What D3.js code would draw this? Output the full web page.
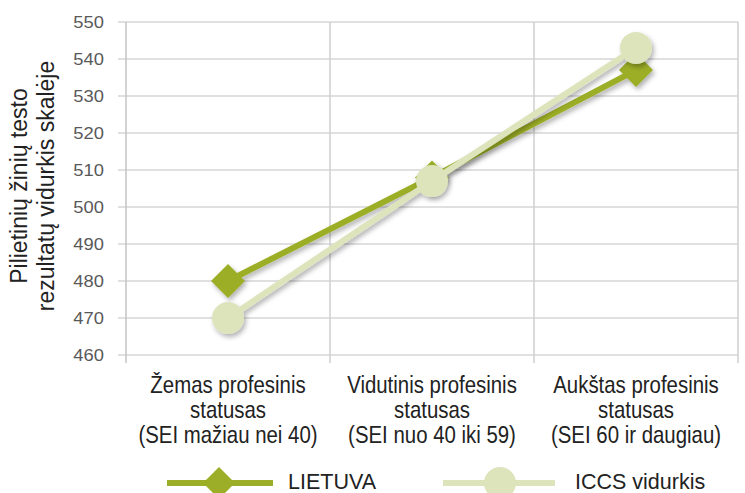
<!DOCTYPE html>
<html>
<head>
<meta charset="utf-8">
<script src="https://cdn.jsdelivr.net/npm/d3@7"></script>
<style>
body { margin: 0; background: #fff; }
text { font-family: "Liberation Sans", Arial, sans-serif; }
</style>
</head>
<body>
<svg width="745" height="493"></svg>
<script>
var categories = [
    ["Žemas profesinis", "statusas", "(SEI mažiau nei 40)"],
    ["Vidutinis profesinis", "statusas", "(SEI nuo 40 iki 59)"],
    ["Aukštas profesinis", "statusas", "(SEI 60 ir daugiau)"]
];
var lietuva = [480, 508, 537];
var iccs = [470, 507, 543];
var yTicks = [460, 470, 480, 490, 500, 510, 520, 530, 540, 550];
var seriesNames = ["LIETUVA", "ICCS vidurkis"];

var svg = d3.select("svg");
var pLeft = 126, pRight = 738, pTop = 22, pBottom = 355;

var x = d3.scaleBand().domain(d3.range(categories.length)).range([pLeft, pRight]);
var y = d3.scaleLinear().domain([460, 550]).range([pBottom, pTop]);

var defs = svg.append("defs");
var f = defs.append("filter").attr("id", "shadow")
    .attr("x", "-30%").attr("y", "-30%").attr("width", "160%").attr("height", "160%");
f.append("feDropShadow").attr("dx", 2).attr("dy", 3).attr("stdDeviation", 2.5)
    .attr("flood-color", "#000").attr("flood-opacity", 0.3);

// horizontal grid
svg.append("g").selectAll("line").data(yTicks).enter().append("line")
    .attr("x1", pLeft - 8).attr("x2", pRight)
    .attr("y1", function(d){return y(d);}).attr("y2", function(d){return y(d);})
    .attr("stroke", "#d6d6d6").attr("stroke-width", 1.5);

// vertical grid
var vx = d3.range(categories.length + 1).map(function(i){
    return i < categories.length ? x(i) : pRight;
});
svg.append("g").selectAll("line").data(vx).enter().append("line")
    .attr("x1", function(d){return d;}).attr("x2", function(d){return d;})
    .attr("y1", pTop).attr("y2", pBottom + 8)
    .attr("stroke", function(d, i){return i == 0 ? "#c4c4c4" : "#cfcfcf";})
    .attr("stroke-width", 1.5);

// y labels
svg.append("g").selectAll("text").data(yTicks).enter().append("text")
    .attr("x", 104).attr("y", function(d){return y(d) + 6;})
    .attr("text-anchor", "end").attr("font-size", 17).attr("fill", "#595959")
    .attr("transform", function(d){return "translate(104," + y(d) + ") scale(1.08,0.95) translate(-104," + (-y(d)) + ")";})
    .text(function(d){return d;});

// y title
var yt = svg.append("text").attr("transform", "translate(27,186) rotate(-90)")
    .attr("text-anchor", "middle").attr("font-size", 23).attr("fill", "#222");
yt.append("tspan").attr("x", 0).attr("dy", 0).text("Pilietinių žinių testo");
yt.append("tspan").attr("x", 0).attr("dy", 27).text("rezultatų vidurkis skalėje");

// category labels
var cx = function(i){return x(i) + x.bandwidth() / 2;};
categories.forEach(function(lines, i){
    var t = svg.append("text").attr("text-anchor", "middle").attr("font-size", 24)
        .attr("fill", "#222")
        .attr("transform", "translate(" + cx(i) + ",0) scale(0.85,1)");
    lines.forEach(function(l, j){
        t.append("tspan").attr("x", 0).attr("y", 393 + j * 25).text(l);
    });
});

var line = d3.line().x(function(d, i){return cx(i);}).y(function(d){return y(d);});
var colL = "#9cae28", colI = "#dde4bc";

function diamondPath(s) {
    return "M0," + (-s) + "L" + s + ",0L0," + s + "L" + (-s) + ",0Z";
}

var gL = svg.append("g").attr("filter", "url(#shadow)");
gL.append("path").datum(lietuva).attr("d", line).attr("fill", "none")
    .attr("stroke", colL).attr("stroke-width", 6);
gL.selectAll("path.m").data(lietuva).enter().append("path").attr("class", "m")
    .attr("d", diamondPath(17))
    .attr("transform", function(d, i){return "translate(" + cx(i) + "," + y(d) + ")";})
    .attr("fill", colL);

var gI = svg.append("g").attr("filter", "url(#shadow)");
gI.append("path").datum(iccs).attr("d", line).attr("fill", "none")
    .attr("stroke", colI).attr("stroke-width", 6);
gI.selectAll("circle").data(iccs).enter().append("circle")
    .attr("cx", function(d, i){return cx(i);}).attr("cy", function(d){return y(d);})
    .attr("r", 16).attr("fill", colI);

// legend
var ly = 483;
var lg = svg.append("g");
lg.append("line").attr("x1", 167).attr("x2", 273).attr("y1", ly).attr("y2", ly)
    .attr("stroke", colL).attr("stroke-width", 6);
lg.append("path").attr("d", diamondPath(16)).attr("transform", "translate(219," + ly + ")").attr("fill", colL);
lg.append("text").attr("x", 288).attr("y", 489).attr("font-size", 21.5).attr("fill", "#222").text(seriesNames[0]);
lg.append("line").attr("x1", 443).attr("x2", 555).attr("y1", ly).attr("y2", ly)
    .attr("stroke", colI).attr("stroke-width", 6);
lg.append("circle").attr("cx", 500).attr("cy", ly).attr("r", 16).attr("fill", colI);
lg.append("text").attr("x", 575).attr("y", 489).attr("font-size", 21.5).attr("fill", "#222").text(seriesNames[1]);
</script>
</body>
</html>
